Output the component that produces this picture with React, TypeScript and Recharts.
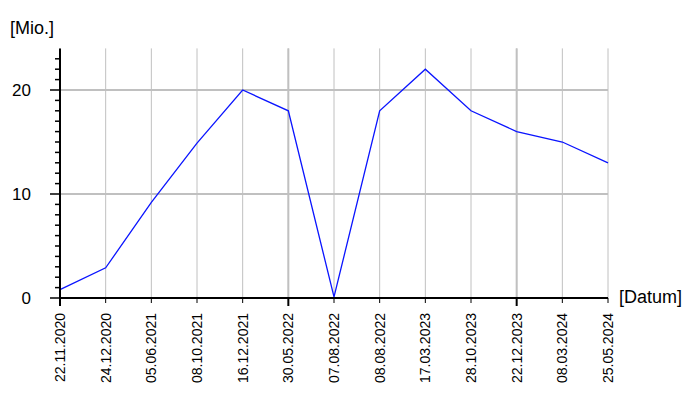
import React from 'react';
import { LineChart, Line, XAxis, YAxis, CartesianGrid, ReferenceLine } from 'recharts';

const dates = [
  '22.11.2020', '24.12.2020', '05.06.2021', '08.10.2021', '16.12.2021', '30.05.2022',
  '07.08.2022', '08.08.2022', '17.03.2023', '28.10.2023', '22.12.2023', '08.03.2024', '25.05.2024',
];
const values = [0.8, 2.9, 9.2, 14.9, 20, 18, 0.1, 18, 22, 18, 16, 15, 13];
const yTicks = Array.from({ length: 24 }, (_, i) => i);
const yLabelTicks = [0, 10, 20];
const strongDates = ['30.05.2022', '22.12.2023'];

const data = dates.map((d, i) => ({ date: d, value: values[i] }));

const font = 'Arial, "Liberation Sans", sans-serif';

const XTick = (props: any) => {
  const { x, y, payload, index } = props;
  const strong = strongDates.includes(payload.value) || index === 0;
  return (
    <g>
      <line x1={x} y1={y} x2={x} y2={y + (strong ? 8 : 5)} stroke="#000" strokeWidth={strong ? 2 : 1} />
      <text
        transform={`translate(${x},${y + 15}) rotate(-90)`}
        textAnchor="end"
        dy="0.35em"
        fontSize={14}
        fontFamily={font}
        fill="#000"
      >
        {payload.value}
      </text>
    </g>
  );
};

const YTick = (props: any) => {
  const { x, y, payload } = props;
  const major = yLabelTicks.includes(payload.value);
  return (
    <g>
      <line x1={x - (major ? 10 : 5)} y1={y} x2={x} y2={y} stroke="#000" strokeWidth={1.5} />
      {major && (
        <text x={x - 29} y={y} textAnchor="end" dy="0.36em" fontSize={17} fontFamily={font} fill="#000">
          {payload.value}
        </text>
      )}
    </g>
  );
};

export default function App() {
  return (
    <div style={{ position: 'absolute', left: 0, top: 0, width: 700, height: 400, background: '#fff' }}>
      <LineChart width={700} height={400} data={data} margin={{ top: 48.4, right: 92, bottom: 0, left: 0 }}>
        <CartesianGrid horizontal={false} stroke="#c0c0c0" strokeWidth={1} />
        {yLabelTicks.slice(1).map((v) => (
          <ReferenceLine key={v} y={v} stroke="#c0c0c0" strokeWidth={2} />
        ))}
        {strongDates.map((d) => (
          <ReferenceLine key={d} x={d} stroke="#c0c0c0" strokeWidth={2} />
        ))}
        <XAxis
          dataKey="date"
          height={102}
          interval={0}
          axisLine={{ stroke: '#000', strokeWidth: 2 }}
          tickLine={false}
          tickSize={0}
          tickMargin={0}
          tick={<XTick />}
        />
        <YAxis
          width={60}
          domain={[0, 24]}
          ticks={yTicks}
          interval={0}
          axisLine={{ stroke: '#000', strokeWidth: 2 }}
          tickLine={false}
          tickSize={0}
          tickMargin={0}
          tick={<YTick />}
        />
        <Line
          type="linear"
          dataKey="value"
          stroke="#0a14ff"
          strokeWidth={1.3}
          dot={false}
          isAnimationActive={false}
        />
      </LineChart>
      <div style={{ position: 'absolute', left: 10, top: 18, fontFamily: font, fontSize: 18 }}>[Mio.]</div>
      <div style={{ position: 'absolute', left: 619, top: 287, fontFamily: font, fontSize: 18 }}>[Datum]</div>
    </div>
  );
}
